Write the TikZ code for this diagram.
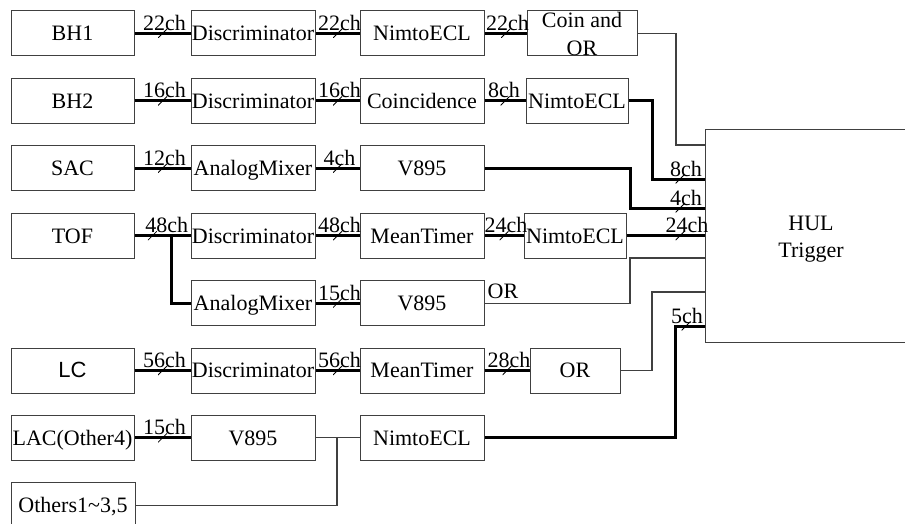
\documentclass[tikz,border=0pt]{standalone}
\usepackage{fontspec}
\setmainfont{Liberation Serif}
\newfontfamily\arialfont{Liberation Sans}
\tikzset{
  every node/.style={font=\fontsize{22}{28}\selectfont},
  box/.style={draw=black!75, line width=1pt, minimum height=45pt, inner sep=0pt,
    text height=14.6pt, text depth=0pt},
  wa/.style={minimum width=123pt},
  wb/.style={minimum width=124pt},
  bus/.style={line width=3pt},
  wire/.style={line width=1.1pt, draw=black!75},
  tick/.style={inner sep=0pt, minimum size=9pt,
    path picture={\draw[line width=0.8pt] (path picture bounding box.south west)
      -- (path picture bounding box.north east);}},
  chlab/.style={anchor=base, yshift=3pt, inner sep=0pt, xshift=2pt},
  txt/.style={anchor=base, inner sep=0pt},
}
\begin{document}
\begin{tikzpicture}[x=1pt, y=-1pt]
\useasboundingbox (0,0) rectangle (905,524);

% row 1: BH1
\node[box,wa] (bh1) at (72.5,33.5) {BH1};
\node[box,wb] (d1)  at (253,33.5) {Discriminator};
\node[box,wb] (n1)  at (422,33.5) {NimtoECL};
\node[box,minimum width=110pt] (coin) at (582,33.5) {};
\node[txt] (coinA) at (582,27.3) {Coin and};
\node[txt] (coinB) at (582,55.3) {OR};

% row 2: BH2
\node[box,wa] (bh2)   at (72.5,101) {BH2};
\node[box,wb] (d2)    at (253,101) {Discriminator};
\node[box,wb] (coinc) at (422,101) {Coincidence};
\node[box,minimum width=102pt] (n2) at (577,101) {NimtoECL};

% row 3: SAC
\node[box,wa] (sac) at (72.5,168.3) {SAC};
\node[box,wb] (am3) at (253,168.3) {AnalogMixer};
\node[box,wb] (v3)  at (422,168.3) {V895};

% row 4: TOF
\node[box,wa] (tof) at (72.5,235.7) {TOF};
\node[box,wb] (d4)  at (253,235.7) {Discriminator};
\node[box,wb] (mt4) at (422,235.7) {MeanTimer};
\node[box,minimum width=102pt] (n4) at (575,235.7) {NimtoECL};

% row 5: TOF analog branch
\node[box,wb] (am5) at (253,303.1) {AnalogMixer};
\node[box,wb] (v5)  at (422,303.1) {V895};

% row 6: LC
\node[box,wa] (lc)  at (72.5,370.5) {\arialfont LC};
\node[box,wb] (d6)  at (253,370.5) {Discriminator};
\node[box,wb] (mt6) at (422,370.5) {MeanTimer};
\node[box,minimum width=90pt] (or6) at (575,370.5) {OR};

% row 7: LAC
\node[box,wa] (lac) at (72.5,437.9) {LAC(Other4)};
\node[box,wb] (v7)  at (253,437.9) {V895};
\node[box,wb] (n7)  at (422,437.9) {NimtoECL};

% row 8: others
\node[box,wb] (oth) at (73,505.3) {Others1\textasciitilde 3,5};

% trigger module
\node[draw=black!75, line width=1pt, minimum width=212pt, minimum height=212pt, inner sep=0pt]
  (hul) at (811,236) {};
\node[txt] (hulA) at (811,230.5) {HUL};
\node[txt] (hulB) at (811,257.5) {Trigger};

% inputs of the trigger module
\coordinate (hin1) at (705,145);
\coordinate (hin2) at (705,179);
\coordinate (hin3) at (705,208);
\coordinate (hin4) at (705,235.7);
\coordinate (hin5) at (705,258);
\coordinate (hin6) at (705,292);
\coordinate (hin7) at (705,326);

% row 1 buses
\draw[bus] (bh1) -- node[tick](t1a){} node[chlab](l1a){22ch} (d1);
\draw[bus] (d1)  -- node[tick](t1b){} node[chlab](l1b){22ch} (n1);
\draw[bus] (n1)  -- node[tick](t1c){} node[chlab](l1c){22ch} (coin);
\draw[wire] (coin) -- (676,33.5) |- (hin1);

% row 2 buses
\draw[bus] (bh2) -- node[tick](t2a){} node[chlab](l2a){16ch} (d2);
\draw[bus] (d2)  -- node[tick](t2b){} node[chlab](l2b){16ch} (coinc);
\draw[bus] (coinc) -- node[tick](t2c){} node[chlab,xshift=-3pt](l2c){8ch} (n2);
\draw[bus] (n2) -- (652,101) |- (hin2);
\node[tick] (t2d) at (680,179) {};
\node[chlab] (l2d) at (684,179) {8ch};

% row 3 buses
\draw[bus] (sac) -- node[tick](t3a){} node[chlab](l3a){12ch} (am3);
\draw[bus] (am3) -- node[tick](t3b){} node[chlab](l3b){4ch} (v3);
\draw[bus] (v3) -- (630,168.3) |- (hin3);
\node[tick] (t3c) at (680,208) {};
\node[chlab] (l3c) at (684,208) {4ch};

% row 4 buses and the analog branch
\draw[bus] (tof) -- node[tick,pos=0.32](t4a){} node[chlab,pos=0.54](l4a){48ch} (d4);
\coordinate (br) at (171,234.2);
\draw[bus] (br) |- (am5);
\draw[bus] (d4)  -- node[tick](t4b){} node[chlab](l4b){48ch} (mt4);
\draw[bus] (mt4) -- node[tick](t4c){} node[chlab](l4c){24ch} (n4);
\draw[bus] (n4) -- (hin4);
\node[tick] (t4d) at (680,235.7) {};
\node[chlab] (l4d) at (685,235.7) {24ch};

% row 5 buses
\draw[bus] (am5) -- node[tick](t5a){} node[chlab](l5a){15ch} (v5);
\draw[wire] (v5) -- (630,303.1) |- (hin5);
\node[chlab, yshift=1.5pt] (l5b) at (501,303.1) {OR};

% row 6 buses
\draw[bus] (lc)  -- node[tick](t6a){} node[chlab](l6a){56ch} (d6);
\draw[bus] (d6)  -- node[tick](t6b){} node[chlab](l6b){56ch} (mt6);
\draw[bus] (mt6) -- node[tick](t6c){} node[chlab](l6c){28ch} (or6);
\draw[wire] (or6) -- (652,370.5) |- (hin6);

% row 7 buses
\draw[bus] (lac) -- node[tick](t7a){} node[chlab](l7a){15ch} (v7);
\draw[wire] (v7) -- (n7);
\coordinate (jn) at (337,437.9);
\draw[wire] (oth) -| (jn);
\draw[bus] (n7) -- (675,437.9) |- (hin7);
\node[tick] (t7b) at (686,326) {};
\node[chlab] (l7b) at (685,326) {5ch};
\end{tikzpicture}
\end{document}
